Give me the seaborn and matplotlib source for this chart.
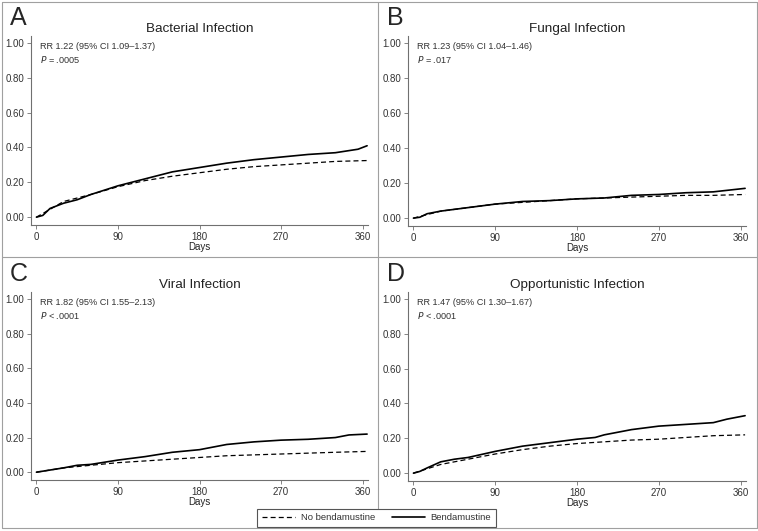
import numpy as np
import pandas as pd
import matplotlib
matplotlib.use("Agg")
import matplotlib.pyplot as plt
from matplotlib.lines import Line2D
import seaborn as sns

sns.set_style("ticks")
plt.rcParams['font.family'] = ['Liberation Sans', 'DejaVu Sans']

# cumulative incidence
titles = ['Bacterial Infection', 'Fungal Infection', 'Viral Infection', 'Opportunistic Infection']
letters = ['A', 'B', 'C', 'D']
rr_text = ['RR 1.22 (95% CI 1.09–1.37)', 'RR 1.23 (95% CI 1.04–1.46)',
           'RR 1.82 (95% CI 1.55–2.13)', 'RR 1.47 (95% CI 1.30–1.67)']
p_text = ['= .0005', '= .017', '< .0001', '< .0001']

days_a_benda = [0, 7, 15, 30, 45, 60, 90, 120, 150, 180, 210, 240, 270, 300, 330, 355, 365]
a_benda = [0, 0.01, 0.05, 0.08, 0.10, 0.13, 0.18, 0.22, 0.26, 0.285, 0.31, 0.33, 0.345, 0.36, 0.37, 0.39, 0.41]
days_a_none = [0, 30, 60, 90, 120, 150, 180, 210, 240, 270, 300, 330, 365]
a_none = [0, 0.09, 0.13, 0.175, 0.21, 0.235, 0.255, 0.275, 0.29, 0.30, 0.31, 0.32, 0.325]

days_b_benda = [0, 7, 15, 30, 60, 90, 120, 150, 180, 210, 240, 270, 300, 330, 365]
b_benda = [0, 0.005, 0.025, 0.04, 0.06, 0.08, 0.095, 0.10, 0.11, 0.115, 0.13, 0.135, 0.145, 0.15, 0.17]
days_b_none = [0, 30, 60, 90, 120, 150, 180, 210, 240, 270, 300, 330, 365]
b_none = [0, 0.04, 0.06, 0.08, 0.09, 0.10, 0.11, 0.115, 0.12, 0.125, 0.13, 0.13, 0.135]

days_c_benda = [0, 30, 45, 60, 90, 120, 150, 180, 210, 240, 270, 300, 330, 345, 365]
c_benda = [0, 0.025, 0.04, 0.045, 0.07, 0.09, 0.115, 0.13, 0.16, 0.175, 0.185, 0.19, 0.20, 0.215, 0.22]
days_c_none = [0, 30, 60, 90, 120, 150, 180, 210, 240, 270, 300, 330, 365]
c_none = [0, 0.025, 0.04, 0.055, 0.065, 0.075, 0.085, 0.095, 0.10, 0.105, 0.11, 0.115, 0.12]

days_d_benda = [0, 7, 15, 30, 45, 60, 90, 120, 150, 180, 200, 210, 240, 270, 300, 330, 345, 365]
d_benda = [0, 0.01, 0.03, 0.065, 0.08, 0.09, 0.125, 0.155, 0.175, 0.195, 0.205, 0.22, 0.25, 0.27, 0.28, 0.29, 0.31, 0.33]
days_d_none = [0, 30, 60, 90, 120, 150, 180, 210, 240, 270, 300, 330, 365]
d_none = [0, 0.05, 0.08, 0.11, 0.135, 0.155, 0.17, 0.18, 0.19, 0.195, 0.205, 0.215, 0.22]

benda = [(days_a_benda, a_benda), (days_b_benda, b_benda), (days_c_benda, c_benda), (days_d_benda, d_benda)]
none = [(days_a_none, a_none), (days_b_none, b_none), (days_c_none, c_none), (days_d_none, d_none)]

W, H = 758, 531
fig = plt.figure(figsize=(W / 100, H / 100), dpi=100)

# axes boxes in pixels: left, top, right, bottom
boxes = [(31, 36, 368, 225), (408, 36, 746, 226), (31, 292, 368, 480), (408, 292, 746, 481)]
axis_col = '#707070'
txt_col = '#333333'

for i in range(4):
    l, t, r, b = boxes[i]
    ax = fig.add_axes([l / W, 1 - b / H, (r - l) / W, (b - t) / H])
    dn = pd.DataFrame({'Days': none[i][0], 'CI': none[i][1]})
    db = pd.DataFrame({'Days': benda[i][0], 'CI': benda[i][1]})
    sns.lineplot(data=dn, x='Days', y='CI', ax=ax, color='black', lw=0.9, linestyle=(0, (4, 2.5)))
    sns.lineplot(data=db, x='Days', y='CI', ax=ax, color='black', lw=1.2)
    ax.set_xlim(-6, 366)
    ax.set_ylim(-0.045, 1.04)
    ax.set_xticks([0, 90, 180, 270, 360])
    ax.set_yticks([0, 0.2, 0.4, 0.6, 0.8, 1.0])
    ax.set_yticklabels(['0.00', '0.20', '0.40', '0.60', '0.80', '1.00'])
    ax.set_ylabel('')
    ax.set_xlabel('Days', fontsize=7, labelpad=0, color='#222222')
    ax.tick_params(labelsize=7, length=3, width=0.6, color=axis_col, labelcolor=txt_col, pad=2)
    sns.despine(ax=ax)
    for s in ['left', 'bottom']:
        ax.spines[s].set_color(axis_col)
        ax.spines[s].set_linewidth(0.8)
    ax.set_title(titles[i], fontsize=9.7, pad=3, color='#222222')
    ax.text(0.027, 0.945, rr_text[i], transform=ax.transAxes, fontsize=6.6, va='center', color=txt_col)
    ax.text(0.027, 0.876, r'$P$ ' + p_text[i], transform=ax.transAxes, fontsize=6.6, va='center', color=txt_col)
    fig.text((l - 21) / W, 1 - 18 / H - (t - 36) / H, letters[i], fontsize=18, va='center', ha='left')

# panel frame
frame_col = '#a0a0a0'
fig.add_artist(Line2D([1.5 / W, 756.5 / W, 756.5 / W, 1.5 / W, 1.5 / W],
                      [1 - 1.5 / H, 1 - 1.5 / H, 1 - 528 / H, 1 - 528 / H, 1 - 1.5 / H],
                      color=frame_col, lw=0.8))
fig.add_artist(Line2D([378 / W, 378 / W], [1 - 1.5 / H, 1 - 528 / H], color=frame_col, lw=0.8))
fig.add_artist(Line2D([1.5 / W, 756.5 / W], [1 - 257 / H, 1 - 257 / H], color=frame_col, lw=0.8))

handles = [Line2D([], [], color='black', lw=0.9, linestyle=(0, (4, 2.5))),
           Line2D([], [], color='black', lw=1.2)]
leg = fig.legend(handles, ['No bendamustine', 'Bendamustine'], loc='lower center',
                 bbox_to_anchor=(376.5 / W, 4 / H), ncol=2, fontsize=6.8, frameon=True,
                 fancybox=False, framealpha=1, edgecolor='#555555', handlelength=3.5,
                 handletextpad=0.6, columnspacing=1.8, borderpad=0.5, borderaxespad=0)
leg.get_frame().set_linewidth(0.8)
for t in leg.get_texts():
    t.set_color(txt_col)

fig.savefig('out.png', dpi=100)
